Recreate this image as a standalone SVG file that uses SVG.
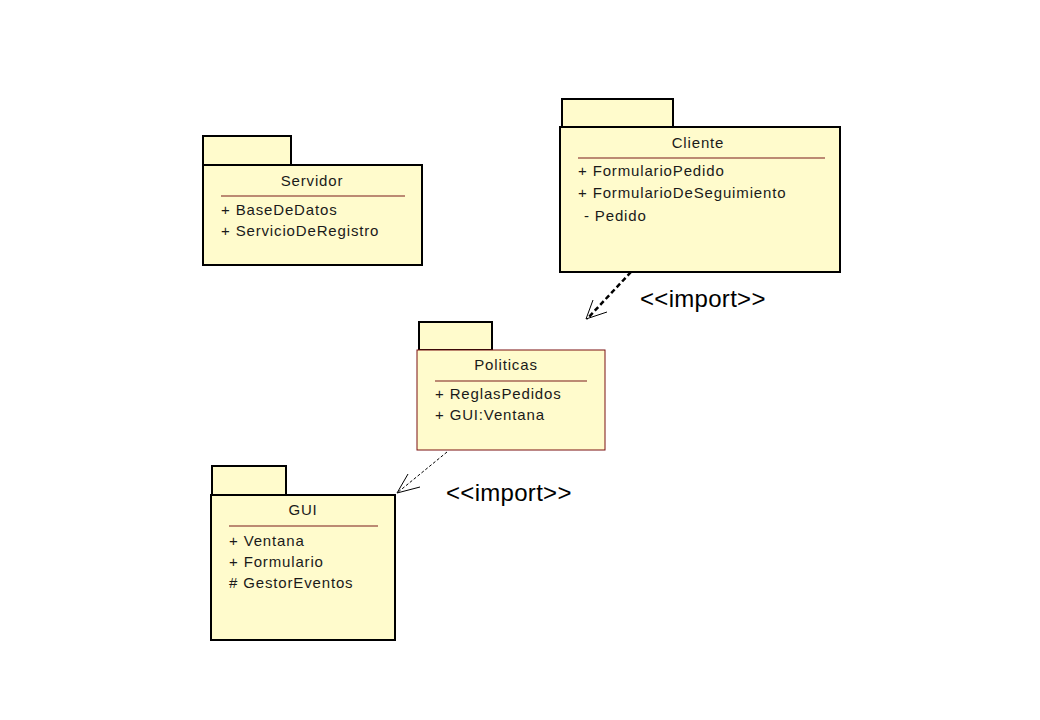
<svg xmlns="http://www.w3.org/2000/svg" width="1040" height="720" viewBox="0 0 1040 720">
<style>
.fill{fill:#FFFBCC;}
.blk{stroke:#000;stroke-width:2;}
.thin{stroke:#7A1010;stroke-width:1;}
.sep{stroke:#7A1A1A;stroke-width:1.2;}
text{font-family:"Liberation Sans",Arial,sans-serif;font-size:15px;letter-spacing:0.85px;fill:#1a1a1a;}
.title{text-anchor:middle;}
.lbl{font-size:24px;letter-spacing:0.3px;fill:#000;}
</style>
<rect width="1040" height="720" fill="#fff"/>
<g id="servidor">
<rect class="fill blk" x="203" y="136" width="88" height="29"/>
<rect class="fill blk" x="203" y="165" width="219" height="100"/>
<text class="title" x="312" y="186">Servidor</text>
<line class="sep" x1="221" y1="196" x2="405" y2="196"/>
<text x="221" y="215">+ BaseDeDatos</text>
<text x="221" y="236">+ ServicioDeRegistro</text>
</g>
<g id="cliente">
<rect class="fill blk" x="562" y="99" width="111" height="28"/>
<rect class="fill blk" x="560" y="127" width="280" height="145"/>
<text class="title" x="698" y="148">Cliente</text>
<line class="sep" x1="578" y1="158" x2="825" y2="158"/>
<text x="578" y="176">+ FormularioPedido</text>
<text x="578" y="198">+ FormularioDeSeguimiento</text>
<text x="584" y="221">- Pedido</text>
</g>
<g id="politicas">
<rect class="fill blk" x="419" y="322" width="73" height="28"/>
<rect class="fill thin" x="417" y="350" width="188" height="100"/>
<text class="title" x="506" y="370">Politicas</text>
<line class="sep" x1="435" y1="381" x2="587" y2="381"/>
<text x="435" y="399">+ ReglasPedidos</text>
<text x="435" y="420">+ GUI:Ventana</text>
</g>
<g id="gui">
<rect class="fill blk" x="212" y="466" width="74" height="29"/>
<rect class="fill blk" x="211" y="495" width="184" height="145"/>
<text class="title" x="303" y="515">GUI</text>
<line class="sep" x1="229" y1="526" x2="378" y2="526"/>
<text x="229" y="546">+ Ventana</text>
<text x="229" y="567">+ Formulario</text>
<text x="229" y="588"># GestorEventos</text>
</g>
<g id="connectors">
<line x1="631" y1="272" x2="587" y2="319" stroke="#000" stroke-width="2.5" stroke-dasharray="5,3"/>
<polyline points="593,300 586,319 607,312" fill="none" stroke="#000" stroke-width="1"/>
<text class="lbl" x="640" y="307">&lt;&lt;import&gt;&gt;</text>
<line x1="447" y1="452" x2="397" y2="493" stroke="#000" stroke-width="1" stroke-dasharray="3,2"/>
<polyline points="408,474 397,493 420,487" fill="none" stroke="#000" stroke-width="1"/>
<text class="lbl" x="446" y="501">&lt;&lt;import&gt;&gt;</text>
</g>
</svg>
